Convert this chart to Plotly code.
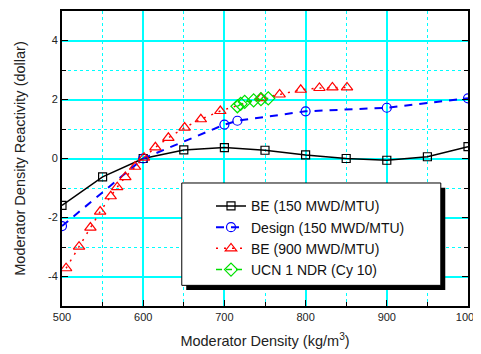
import plotly.graph_objects as go

# ---------------- data ----------------
be150_x = [500, 550, 600, 650, 700, 750, 800, 850, 900, 950, 1000]
be150_y = [-1.59, -0.62, 0.0, 0.29, 0.37, 0.28, 0.12, 0.0, -0.06, 0.06, 0.40]

design_x = [500, 600, 700, 716, 800, 900, 1000]
design_y = [-2.29, 0.0, 1.15, 1.28, 1.60, 1.72, 2.04]

be900_x = [505, 521, 535, 547, 560, 568, 578, 590, 601, 615, 631, 651, 671, 695,
           745, 768, 794, 817, 833, 851]
be900_y = [-3.72, -2.99, -2.34, -1.80, -1.28, -0.97, -0.63, -0.28, 0.03, 0.38, 0.70,
           1.05, 1.33, 1.61, 2.05, 2.17, 2.33, 2.39, 2.41, 2.41]

ucn_x = [716, 720, 725, 736, 745, 754]
ucn_y = [1.77, 1.85, 1.92, 1.97, 2.01, 2.04]

x_ticks = [500, 600, 700, 800, 900, 1000]
x_ticktext = ["500", "600", "700", "800", "900", "1000"]
y_ticks = [-4, -2, 0, 2, 4]
y_ticktext = ["-4", "-2", "0", "2", "4"]

names = ["BE (150 MWD/MTU)", "Design (150 MWD/MTU)", "BE (900 MWD/MTU)", "UCN 1 NDR (Cy 10)"]

FONT = "Arial, Liberation Sans, Helvetica, sans-serif"

fig = go.Figure()
fig.add_trace(go.Scatter(
    x=be150_x, y=be150_y, name=names[0], mode="lines+markers",
    line=dict(color="black", width=1.5),
    marker=dict(symbol="square-open", size=8, color="black", line=dict(width=1.2))))
fig.add_trace(go.Scatter(
    x=design_x, y=design_y, name=names[1], mode="lines+markers",
    line=dict(color="#0000ff", width=2, dash="8px,7px"),
    marker=dict(symbol="circle-open", size=9, color="#0000ff", line=dict(width=1.2))))
fig.add_trace(go.Scatter(
    x=be900_x, y=be900_y, name=names[2], mode="lines+markers",
    line=dict(color="#ff0000", width=1.5, dash="2px,6px"),
    marker=dict(symbol="triangle-up-open", size=10, color="#ff0000", line=dict(width=1.2))))
fig.add_trace(go.Scatter(
    x=ucn_x, y=ucn_y, name=names[3], mode="lines+markers",
    line=dict(color="#00e000", width=1.5, dash="6px,4px"),
    marker=dict(symbol="diamond-open", size=10, color="#00e000", line=dict(width=1.2))))

# legend box with drop shadow (paper coords)
lx0, lx1, ly0, ly1 = 0.295, 0.933, 0.07, 0.417
fig.add_shape(type="rect", xref="paper", yref="paper",
              x0=lx0 + 0.011, x1=lx1 + 0.011, y0=ly0 - 0.016, y1=ly1 - 0.016,
              fillcolor="black", line=dict(width=0), layer="above")
fig.add_shape(type="rect", xref="paper", yref="paper",
              x0=lx0, x1=lx1, y0=ly0, y1=ly1,
              fillcolor="white", line=dict(color="black", width=1), layer="above")

grid_major = "#00ffff"
fig.update_xaxes(
    range=[500, 1000], tickvals=x_ticks, ticktext=x_ticktext,
    showline=True, linecolor="black", linewidth=2, mirror=True,
    ticks="inside", ticklen=6, tickcolor="black", tickwidth=1,
    showgrid=True, gridcolor=grid_major, gridwidth=1.5,
    zeroline=False,
    minor=dict(dtick=50, showgrid=True, gridcolor=grid_major, griddash="dot", gridwidth=1,
               ticks="inside", ticklen=4, tickcolor="black"),
    tickfont=dict(family=FONT, size=11, color="#222"),
    title=dict(text="Moderator Density (kg/m<sup>3</sup>)", font=dict(family=FONT, size=14.5, color="#222"),
               standoff=14),
)
fig.update_yaxes(
    range=[-5, 5], tickvals=y_ticks, ticktext=y_ticktext,
    showline=True, linecolor="black", linewidth=2, mirror="allticks",
    ticks="inside", ticklen=6, tickcolor="black", tickwidth=1,
    showgrid=True, gridcolor=grid_major, gridwidth=1.5,
    zeroline=False,
    minor=dict(dtick=1, showgrid=True, gridcolor=grid_major, griddash="dot", gridwidth=1,
               ticks="inside", ticklen=4, tickcolor="black"),
    tickfont=dict(family=FONT, size=11, color="#222"),
    title=dict(text="Moderator Density Reactivity (dollar)", font=dict(family=FONT, size=14.5, color="#222"),
               standoff=19),
)

# the page body has an 8px default margin; size the figure to fit the 481x354 window
fig.update_layout(
    width=473, height=346,
    margin=dict(l=54, r=13, t=1, b=48),
    paper_bgcolor="white", plot_bgcolor="white",
    showlegend=True,
    legend=dict(x=0.367, y=0.392, xanchor="left", yanchor="top",
                bgcolor="rgba(0,0,0,0)", borderwidth=0,
                font=dict(family=FONT, size=14, color="#111"),
                tracegroupgap=0, itemwidth=30),
    font=dict(family=FONT),
)

fig.write_html("out.html")
